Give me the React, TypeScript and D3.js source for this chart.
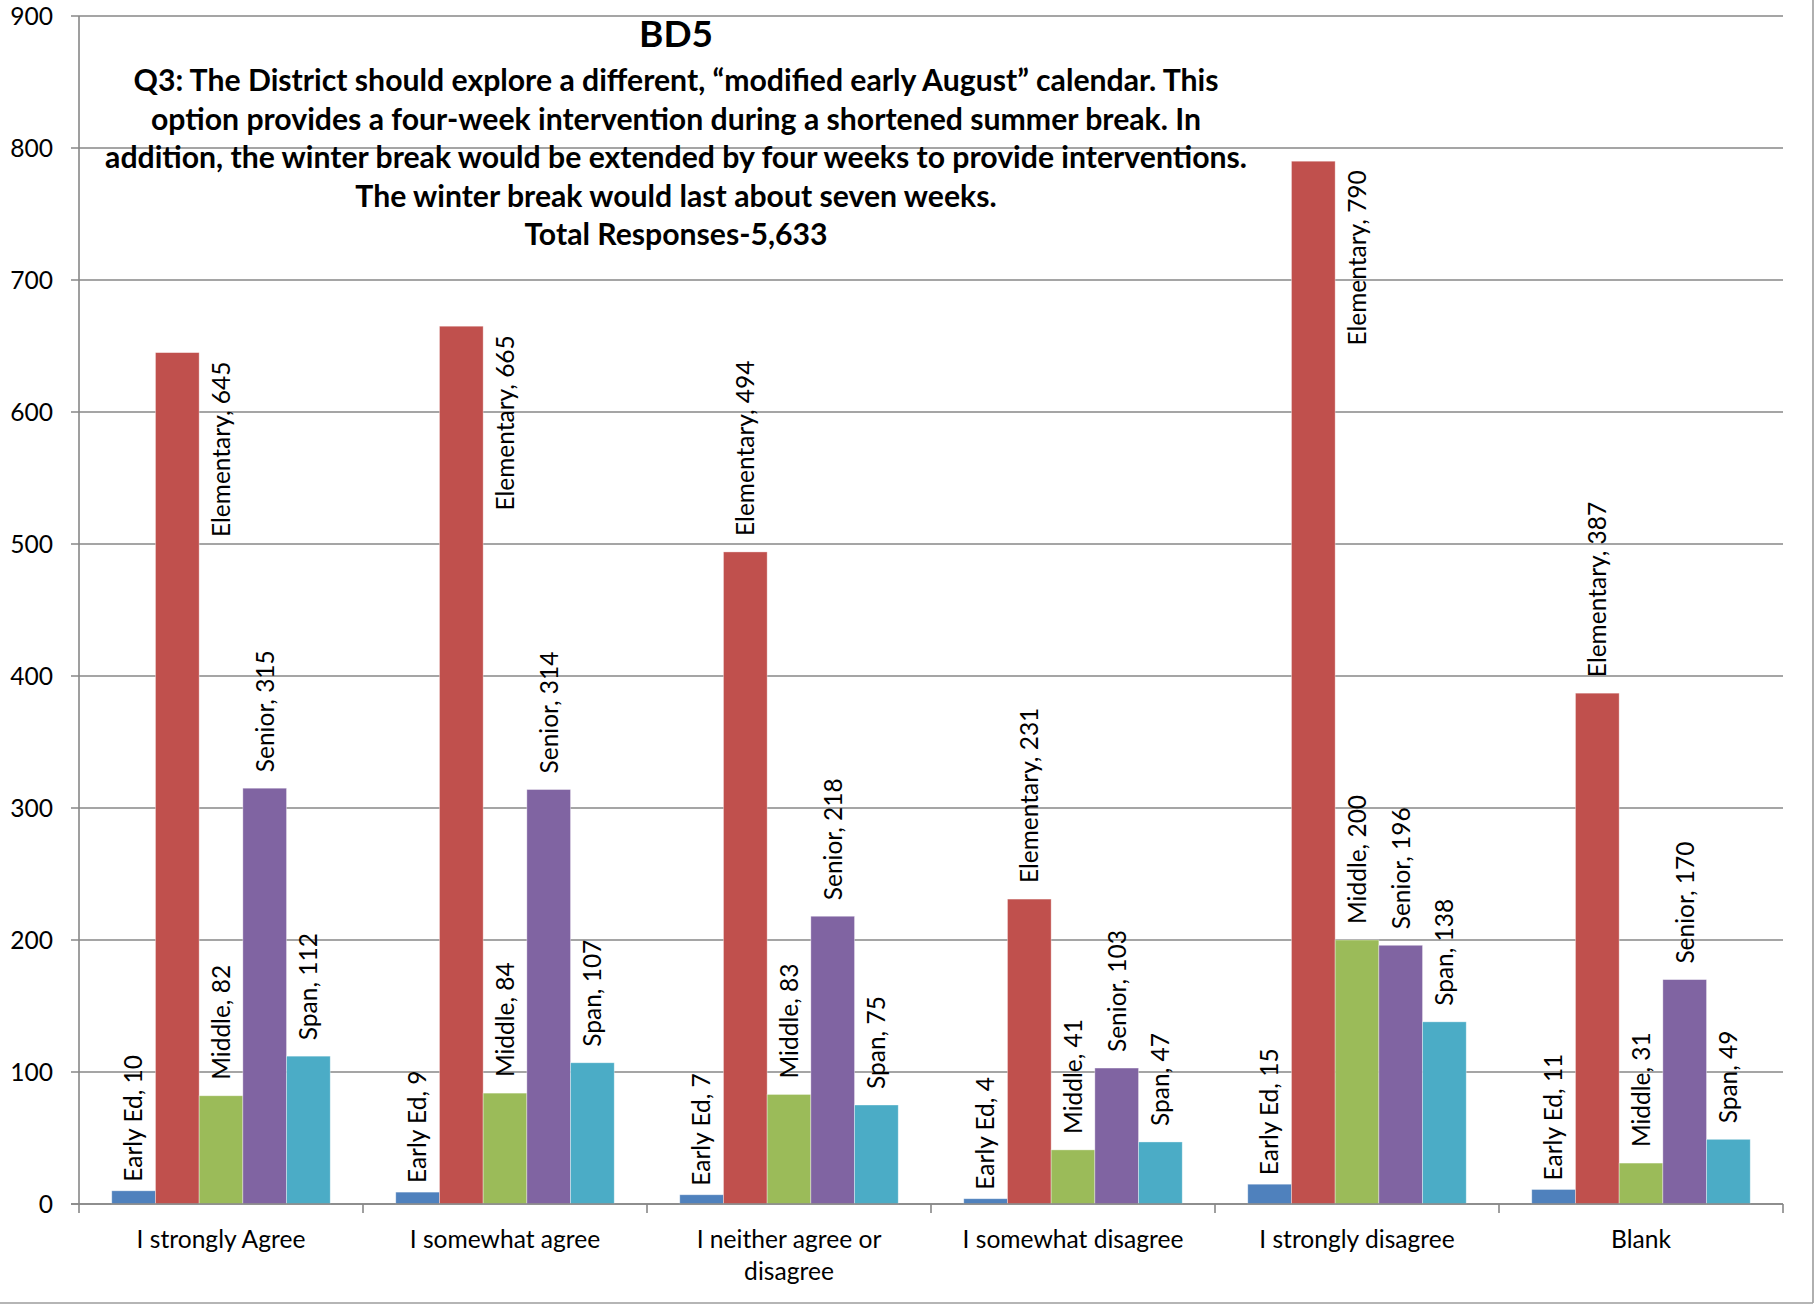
import React from "react";
import * as d3 from "d3";

const categories = [
  "I strongly Agree",
  "I somewhat agree",
  "I neither agree or disagree",
  "I somewhat disagree",
  "I strongly disagree",
  "Blank",
];
const seriesNames = ["Early Ed", "Elementary", "Middle", "Senior", "Span"];
const earlyEd = [10, 9, 7, 4, 15, 11];
const elementary = [645, 665, 494, 231, 790, 387];
const middle = [82, 84, 83, 41, 200, 31];
const senior = [315, 314, 218, 103, 196, 170];
const span = [112, 107, 75, 47, 138, 49];
const seriesValues = [earlyEd, elementary, middle, senior, span];
const seriesColors = ["#4F81BD", "#C0504D", "#9BBB59", "#8064A2", "#4BACC6"];
const yTicks = [0, 100, 200, 300, 400, 500, 600, 700, 800, 900];
const chartTitle = "BD5";
const subtitleLines = [
  "Q3: The District should explore a different, \u201cmodified early August\u201d calendar. This",
  "option provides a four-week intervention during a shortened summer break. In",
  "addition, the winter break would be extended by four weeks to provide interventions.",
  "The winter break would last about seven weeks.",
  "Total Responses-5,633",
];

const W = 1816;
const H = 1304;
const PL = 79;
const PR = 1783;
const PT = 16;
const PB = 1204;
const FONT = "Lato, 'Open Sans', sans-serif";
const LABEL_SIZE = 24.5;
const AXIS_SIZE = 24.6;
const TITLE_SIZE = 30.2;
const MAIN_TITLE_SIZE = 37;
const TITLE_CX = 676;
const TITLE_BOTTOM = 258;
const GRID = "#878787";

let ctx: CanvasRenderingContext2D | null = null;
function measure(text: string, size: number, weight = "normal") {
  if (!ctx) ctx = document.createElement("canvas").getContext("2d");
  if (!ctx) return text.length * size * 0.5;
  ctx.font = `${weight} ${size}px Lato`;
  return ctx.measureText(text).width;
}

function wrap(text: string, maxW: number, size: number) {
  const words = text.split(" ");
  const lines: string[] = [];
  let cur = "";
  for (const w of words) {
    const t = cur ? cur + " " + w : w;
    if (cur && measure(t, size) > maxW) {
      lines.push(cur);
      cur = w;
    } else cur = t;
  }
  if (cur) lines.push(cur);
  return lines;
}

export default function App() {
  const x = d3.scaleBand<string>().domain(categories).range([PL, PR]).padding(0);
  const bw = x.bandwidth() / (seriesNames.length + 1.5);
  const inner = d3
    .scaleBand<string>()
    .domain(seriesNames)
    .range([bw * 0.75, bw * 0.75 + bw * seriesNames.length])
    .padding(0);
  const y = d3.scaleLinear().domain([0, 900]).range([PB, PT]);
  const capHalf = LABEL_SIZE * 0.36;

  const bars: React.ReactNode[] = [];
  const labels: React.ReactNode[] = [];
  seriesNames.forEach((s, si) => {
    seriesValues[si].forEach((v, ci) => {
      const cat = categories[ci];
      const x0 = (x(cat) as number) + (inner(s) as number);
      const top = y(v);
      bars.push(
        <rect
          key={`b-${si}-${ci}`}
          x={x0}
          y={top}
          width={inner.bandwidth()}
          height={PB - top}
          fill={seriesColors[si]}
          stroke="rgba(255,255,255,0.45)"
          strokeWidth={0.8}
        />
      );
      const txt = `${s}, ${v}`;
      const len = measure(txt, LABEL_SIZE);
      const cx = x0 + inner.bandwidth() / 2;
      const gap = si === 0 ? 9 : 16;
      if (top - gap - len < TITLE_BOTTOM) {
        // label placed beside the bar, end aligned just below the bar top
        labels.push(
          <text
            key={`l-${si}-${ci}`}
            transform={`translate(${cx + inner.bandwidth() + capHalf},${top + 9}) rotate(-90)`}
            textAnchor="end"
            fontSize={LABEL_SIZE}
            fontFamily={FONT}
            fill="#000"
          >
            {txt}
          </text>
        );
      } else {
        labels.push(
          <text
            key={`l-${si}-${ci}`}
            transform={`translate(${cx + capHalf},${top - gap}) rotate(-90)`}
            textAnchor="start"
            fontSize={LABEL_SIZE}
            fontFamily={FONT}
            fill="#000"
          >
            {txt}
          </text>
        );
      }
    });
  });

  const boundaries = [...categories.map((c) => x(c) as number), PR];

  return (
    <svg
      width={W}
      height={H}
      style={{ position: "absolute", left: 0, top: 0, display: "block", background: "#fff" }}
    >
      <rect x={0} y={0} width={W} height={H} fill="#fff" />
      {yTicks.map((t) => (
        <line
          key={`g-${t}`}
          x1={PL - 8}
          x2={PR}
          y1={y(t)}
          y2={y(t)}
          stroke={GRID}
          strokeWidth={1.6}
        />
      ))}
      <line x1={PL} x2={PL} y1={PT} y2={PB} stroke={GRID} strokeWidth={1.6} />
      {yTicks.map((t) => (
        <text
          key={`yt-${t}`}
          x={53}
          y={y(t)}
          dy="0.35em"
          textAnchor="end"
          fontSize={AXIS_SIZE}
          fontFamily={FONT}
          fill="#000"
        >
          {t}
        </text>
      ))}
      {bars}
      <line x1={PL - 8} x2={PR} y1={PB} y2={PB} stroke={GRID} strokeWidth={1.6} />
      {boundaries.map((b, i) => (
        <line key={`xt-${i}`} x1={b} x2={b} y1={PB} y2={PB + 9} stroke={GRID} strokeWidth={1.6} />
      ))}
      {categories.map((c) => {
        const lines = wrap(c, 250, AXIS_SIZE);
        const cx = (x(c) as number) + x.bandwidth() / 2;
        return (
          <text
            key={`xc-${c}`}
            textAnchor="middle"
            fontSize={AXIS_SIZE}
            fontFamily={FONT}
            fill="#000"
          >
            {lines.map((l, i) => (
              <tspan key={i} x={cx} y={1248 + i * 31.5}>
                {l}
              </tspan>
            ))}
          </text>
        );
      })}
      {labels}
      <text
        x={TITLE_CX}
        y={47}
        textAnchor="middle"
        fontSize={MAIN_TITLE_SIZE}
        fontWeight="bold"
        fontFamily={FONT}
        fill="#000"
      >
        {chartTitle}
      </text>
      <text
        textAnchor="middle"
        fontSize={TITLE_SIZE}
        fontWeight="bold"
        fontFamily={FONT}
        fill="#000"
      >
        {subtitleLines.map((l, i) => (
          <tspan key={i} x={TITLE_CX} y={91 + i * 38.6}>
            {l}
          </tspan>
        ))}
      </text>
      <line x1={1813} x2={1813} y1={0} y2={1303} stroke="#9c9c9c" strokeWidth={1.6} />
      <line x1={0} x2={1813} y1={1303} y2={1303} stroke="#9c9c9c" strokeWidth={1.6} />
    </svg>
  );
}
